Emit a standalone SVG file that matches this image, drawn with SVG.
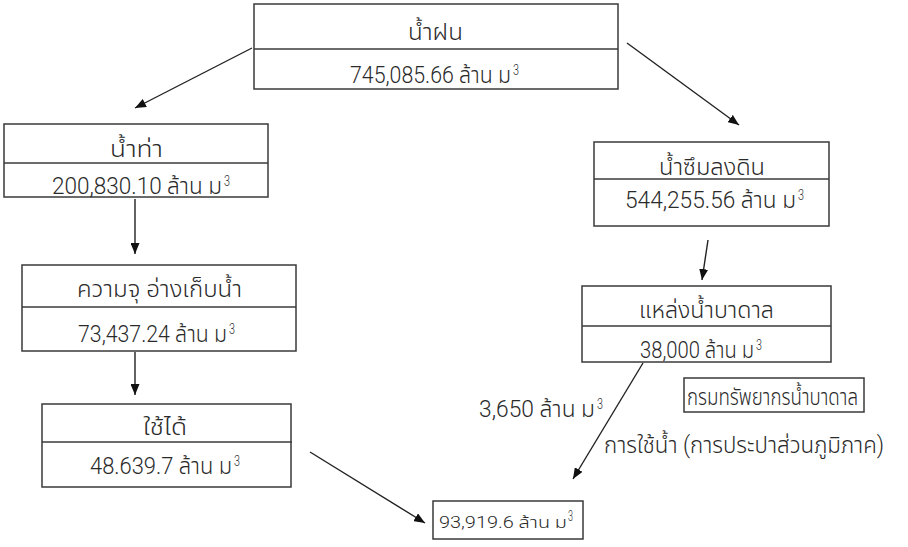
<svg xmlns="http://www.w3.org/2000/svg" width="908" height="547" viewBox="0 0 908 547">
<defs>
<marker id="ah" markerUnits="userSpaceOnUse" markerWidth="12" markerHeight="9" refX="11" refY="4.5" orient="auto">
<path d="M0,0 L11,4.5 L0,9 z" fill="#111"/>
</marker>
<style>
.box{fill:#fff;stroke:#3a3a3a;stroke-width:1.5}
.div{stroke:#3a3a3a;stroke-width:1.5}
.t{font-family:Roboto,"Liberation Sans","Noto Sans Thai","DejaVu Sans",sans-serif;font-weight:300;font-size:23px;fill:#2a2a2a}
.s{font-family:Roboto,"Liberation Sans",sans-serif;font-weight:300;font-size:14px;fill:#2a2a2a}
.sm{font-family:Roboto,"Liberation Sans","Noto Sans Thai","DejaVu Sans",sans-serif;font-weight:300;font-size:16px;fill:#2a2a2a}
.c{stroke:#222;stroke-width:1.4;fill:none;marker-end:url(#ah)}
</style>
</defs>
<rect width="908" height="547" fill="#fff"/>

<g id="rain">
<rect class="box" x="254" y="4" width="364" height="85"/>
<line class="div" x1="254" y1="49" x2="618" y2="49"/>
<text class="t" x="408" y="40" textLength="55" lengthAdjust="spacingAndGlyphs">น้ำฝน</text>
<text class="t" x="350" y="83" textLength="161" lengthAdjust="spacingAndGlyphs">745,085.66 ล้าน ม</text>
<text class="s" x="513" y="75" textLength="6" lengthAdjust="spacingAndGlyphs">3</text>
</g>

<g id="runoff">
<rect class="box" x="4" y="124" width="264" height="73"/>
<line class="div" x1="4" y1="163" x2="268" y2="163"/>
<text class="t" x="110" y="157" textLength="53" lengthAdjust="spacingAndGlyphs">น้ำท่า</text>
<text class="t" x="52" y="194" textLength="170" lengthAdjust="spacingAndGlyphs">200,830.10 ล้าน ม</text>
<text class="s" x="224" y="186" textLength="6" lengthAdjust="spacingAndGlyphs">3</text>
</g>

<g id="infiltration">
<rect class="box" x="594" y="142" width="235" height="84"/>
<line class="div" x1="594" y1="179" x2="829" y2="179"/>
<text class="t" x="659" y="175" textLength="106" lengthAdjust="spacingAndGlyphs">น้ำซึมลงดิน</text>
<text class="t" x="625" y="208" textLength="171" lengthAdjust="spacingAndGlyphs">544,255.56 ล้าน ม</text>
<text class="s" x="798" y="200" textLength="6" lengthAdjust="spacingAndGlyphs">3</text>
</g>

<g id="reservoir">
<rect class="box" x="22" y="265" width="274" height="86"/>
<line class="div" x1="22" y1="307" x2="296" y2="307"/>
<text class="t" x="77" y="297" textLength="165" lengthAdjust="spacingAndGlyphs">ความจุ อ่างเก็บน้ำ</text>
<text class="t" x="78" y="342" textLength="149" lengthAdjust="spacingAndGlyphs">73,437.24 ล้าน ม</text>
<text class="s" x="229" y="334" textLength="6" lengthAdjust="spacingAndGlyphs">3</text>
</g>

<g id="groundwater">
<rect class="box" x="582" y="286" width="249" height="76"/>
<line class="div" x1="582" y1="326" x2="831" y2="326"/>
<text class="t" x="639" y="318" textLength="135" lengthAdjust="spacingAndGlyphs">แหล่งน้ำบาดาล</text>
<text class="t" x="640" y="358" textLength="114" lengthAdjust="spacingAndGlyphs">38,000 ล้าน ม</text>
<text class="s" x="756" y="350" textLength="6" lengthAdjust="spacingAndGlyphs">3</text>
</g>

<g id="usable">
<rect class="box" x="42" y="404" width="249" height="83"/>
<line class="div" x1="42" y1="442" x2="292" y2="442"/>
<text class="t" x="143" y="435" textLength="44" lengthAdjust="spacingAndGlyphs">ใช้ได้</text>
<text class="t" x="90" y="474" textLength="142" lengthAdjust="spacingAndGlyphs">48.639.7 ล้าน ม</text>
<text class="s" x="234" y="466" textLength="6" lengthAdjust="spacingAndGlyphs">3</text>
</g>

<g id="total">
<rect class="box" x="433" y="501" width="150" height="38"/>
<text class="sm" x="439" y="528" textLength="128" lengthAdjust="spacingAndGlyphs">93,919.6 ล้าน ม</text>
<text class="s" x="568" y="521" font-size="11" textLength="5" lengthAdjust="spacingAndGlyphs">3</text>
</g>

<g id="dgr">
<rect class="box" x="684" y="378" width="180" height="34"/>
<text class="t" x="687" y="405" font-size="18" textLength="171" lengthAdjust="spacingAndGlyphs">กรมทรัพยากรน้ำบาดาล</text>
</g>

<g id="connectors">
<line class="c" x1="252" y1="48" x2="135" y2="108"/>
<line class="c" x1="627" y1="43" x2="739" y2="125"/>
<line class="c" x1="135" y1="199" x2="135" y2="254"/>
<line class="c" x1="135" y1="352" x2="135" y2="395"/>
<line class="c" x1="708" y1="240" x2="702" y2="280"/>
<line class="c" x1="643" y1="363" x2="573" y2="479"/>
<line class="c" x1="310" y1="452" x2="425" y2="523"/>
</g>

<g id="labels">
<text class="t" x="479" y="417" textLength="116" lengthAdjust="spacingAndGlyphs">3,650 ล้าน ม</text>
<text class="s" x="597" y="409" textLength="6" lengthAdjust="spacingAndGlyphs">3</text>
<text class="t" x="604" y="453" textLength="280" lengthAdjust="spacingAndGlyphs">การใช้น้ำ (การประปาส่วนภูมิภาค)</text>
</g>
</svg>
